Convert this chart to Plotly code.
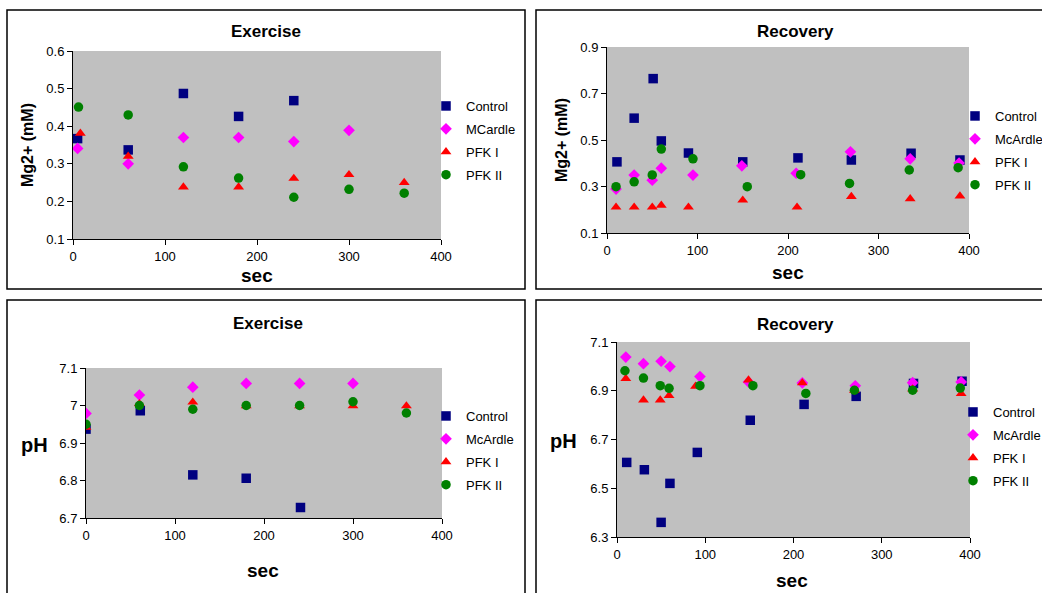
import plotly.graph_objects as go

W, H = 1042, 593

series_names = ["Control", "McArdle", "PFK I", "PFK II"]
series_names_ex_mg = ["Control", "MCardle", "PFK I", "PFK II"]
colors = ["#000080", "#FF00FF", "#FF0000", "#008000"]
symbols = ["square", "diamond", "triangle-up", "circle"]

# Panel 1: Exercise, Mg2+
ex_mg_ctrl_x = [5, 60, 120, 180, 240]
ex_mg_ctrl_y = [0.367, 0.337, 0.487, 0.426, 0.468]
ex_mg_mca_x = [5, 60, 120, 180, 240, 300]
ex_mg_mca_y = [0.341, 0.30, 0.37, 0.37, 0.359, 0.389]
ex_mg_pfk1_x = [8, 60, 120, 180, 240, 300, 360]
ex_mg_pfk1_y = [0.381, 0.32, 0.238, 0.238, 0.261, 0.271, 0.25]
ex_mg_pfk2_x = [6, 60, 120, 180, 240, 300, 360]
ex_mg_pfk2_y = [0.451, 0.43, 0.292, 0.262, 0.211, 0.232, 0.222]

# Panel 2: Recovery, Mg2+
rc_mg_ctrl_x = [11, 30, 51, 60, 90, 150, 211, 270, 336, 390]
rc_mg_ctrl_y = [0.406, 0.594, 0.764, 0.496, 0.444, 0.406, 0.423, 0.414, 0.443, 0.414]
rc_mg_mca_x = [10, 30, 50, 60, 95, 149, 209, 269, 335, 389]
rc_mg_mca_y = [0.289, 0.349, 0.327, 0.379, 0.349, 0.389, 0.357, 0.449, 0.419, 0.401]
rc_mg_pfk1_x = [10, 30, 50, 60, 90, 150, 210, 270, 335, 390]
rc_mg_pfk1_y = [0.211, 0.211, 0.211, 0.219, 0.211, 0.241, 0.211, 0.257, 0.247, 0.259]
rc_mg_pfk2_x = [10, 30, 50, 60, 95, 155, 214, 268, 334, 388]
rc_mg_pfk2_y = [0.299, 0.320, 0.35, 0.461, 0.419, 0.299, 0.351, 0.313, 0.371, 0.381]

# Panel 3: Exercise, pH
ex_ph_ctrl_x = [0, 61, 120, 180, 241]
ex_ph_ctrl_y = [6.937, 6.986, 6.815, 6.806, 6.728]
ex_ph_mca_x = [0, 60, 120, 180, 240, 300]
ex_ph_mca_y = [6.979, 7.028, 7.049, 7.059, 7.059, 7.059]
ex_ph_pfk1_x = [0, 60, 120, 180, 240, 300, 360]
ex_ph_pfk1_y = [6.942, 7.005, 7.009, 6.999, 6.999, 6.999, 6.999]
ex_ph_pfk2_x = [0, 60, 120, 180, 240, 300, 360]
ex_ph_pfk2_y = [6.95, 7.0, 6.99, 7.0, 7.0, 7.01, 6.98]

# Panel 4: Recovery, pH
rc_ph_ctrl_x = [11, 31, 50, 60, 91, 151, 212, 271, 336, 391]
rc_ph_ctrl_y = [6.606, 6.576, 6.360, 6.520, 6.647, 6.779, 6.844, 6.877, 6.930, 6.939]
rc_ph_mca_x = [10, 30, 50, 60, 94, 149, 210, 270, 335, 390]
rc_ph_mca_y = [7.038, 7.011, 7.021, 6.999, 6.958, 6.936, 6.932, 6.92, 6.933, 6.936]
rc_ph_pfk1_x = [10, 30, 49, 59, 89, 149, 210, 269, 335, 390]
rc_ph_pfk1_y = [6.95, 6.862, 6.862, 6.88, 6.918, 6.944, 6.932, 6.902, 6.907, 6.888]
rc_ph_pfk2_x = [9, 30, 49, 59, 94, 154, 214, 269, 335, 389]
rc_ph_pfk2_y = [6.982, 6.952, 6.921, 6.91, 6.921, 6.921, 6.889, 6.902, 6.902, 6.911]

panels = [
    dict(names=series_names_ex_mg,
         data=[(ex_mg_ctrl_x, ex_mg_ctrl_y), (ex_mg_mca_x, ex_mg_mca_y),
               (ex_mg_pfk1_x, ex_mg_pfk1_y), (ex_mg_pfk2_x, ex_mg_pfk2_y)]),
    dict(names=series_names,
         data=[(rc_mg_ctrl_x, rc_mg_ctrl_y), (rc_mg_mca_x, rc_mg_mca_y),
               (rc_mg_pfk1_x, rc_mg_pfk1_y), (rc_mg_pfk2_x, rc_mg_pfk2_y)]),
    dict(names=series_names,
         data=[(ex_ph_ctrl_x, ex_ph_ctrl_y), (ex_ph_mca_x, ex_ph_mca_y),
               (ex_ph_pfk1_x, ex_ph_pfk1_y), (ex_ph_pfk2_x, ex_ph_pfk2_y)]),
    dict(names=series_names,
         data=[(rc_ph_ctrl_x, rc_ph_ctrl_y), (rc_ph_mca_x, rc_ph_mca_y),
               (rc_ph_pfk1_x, rc_ph_pfk1_y), (rc_ph_pfk2_x, rc_ph_pfk2_y)]),
]

# layout geometry in pixels
plot_px = [  # x0, x1, ytop, ybottom
    (73, 441, 51, 239),
    (607, 969, 47, 233),
    (86, 442, 368, 518),
    (617, 970, 342, 537),
]
yranges = [[0.1, 0.6], [0.1, 0.9], [6.7, 7.1], [6.3, 7.1]]
ydticks = [0.1, 0.2, 0.1, 0.2]
legend_px = [(426, 91), (955, 101), (426, 401), (953, 397)]
frames_px = [(7, 525, 10, 289), (536, 1045, 10, 289), (7, 525, 300, 597), (536, 1045, 300, 597)]

def px(x):
    return x / W

def py(y):
    return 1 - y / H

FONT = "Liberation Sans, Arial, sans-serif"
marker_sizes = [9.5, 9, 9.5, 9.5]

fig = go.Figure()
layout = dict(
    width=W, height=H, autosize=False,
    margin=dict(l=0, r=0, t=0, b=0, pad=0, autoexpand=False),
    paper_bgcolor="white",
    plot_bgcolor="#C0C0C0",
    font=dict(family=FONT, size=13, color="black"),
    shapes=[], annotations=[],
)

for i, p in enumerate(panels):
    k = i + 1
    xa = "x" if k == 1 else f"x{k}"
    ya = "y" if k == 1 else f"y{k}"
    lg = "legend" if k == 1 else f"legend{k}"
    for j, (xs, ys) in enumerate(p["data"]):
        fig.add_trace(go.Scatter(
            x=xs, y=ys, mode="markers", name=p["names"][j],
            xaxis=xa, yaxis=ya, legend=lg,
            legendgroup=f"g{k}_{j}",
            marker=dict(symbol=symbols[j], color=colors[j], size=marker_sizes[j],
                        line=dict(width=0)),
        ))
    x0, x1, yt, yb = plot_px[i]
    axkey_x = "xaxis" if k == 1 else f"xaxis{k}"
    axkey_y = "yaxis" if k == 1 else f"yaxis{k}"
    layout[axkey_x] = dict(
        domain=[px(x0), px(x1)], anchor=ya, range=[0, 400], dtick=100,
        showgrid=False, zeroline=False, showline=True, linecolor="black", linewidth=1,
        ticks="outside", ticklen=5, tickcolor="black", tickfont=dict(size=13),
        fixedrange=True, automargin=False,
    )
    layout[axkey_y] = dict(
        domain=[py(yb), py(yt)], anchor=xa, range=yranges[i], dtick=ydticks[i],
        tick0=yranges[i][0],
        showgrid=False, zeroline=False, showline=True, linecolor="black", linewidth=1,
        ticks="outside", ticklen=5, tickcolor="black", tickfont=dict(size=13),
        fixedrange=True, automargin=False,
    )
    lx, ly = legend_px[i]
    layout[lg] = dict(
        x=px(lx), y=py(ly), xanchor="left", yanchor="top",
        bgcolor="rgba(0,0,0,0)", font=dict(size=13), tracegroupgap=3,
        itemwidth=30,
    )
    fx0, fx1, fyt, fyb = frames_px[i]
    layout["shapes"].append(dict(
        type="rect", xref="paper", yref="paper",
        x0=px(fx0), x1=px(fx1), y0=py(fyb), y1=py(fyt),
        line=dict(color="black", width=1.5), fillcolor="rgba(0,0,0,0)",
    ))

def ann(text, x, y, size, angle=0):
    layout["annotations"].append(dict(
        text=text, x=px(x), y=py(y), xref="paper", yref="paper",
        xanchor="center", yanchor="middle", showarrow=False, textangle=angle,
        font=dict(size=size, family=FONT, color="black"),
    ))

ann("<b>Exercise</b>", 266, 32, 17)
ann("<b>Recovery</b>", 795, 32, 17)
ann("<b>Exercise</b>", 268, 323, 17)
ann("<b>Recovery</b>", 795, 324, 17)
ann("<b>Mg2+ (mM)</b>", 27, 145, 16, -90)
ann("<b>Mg2+ (mM)</b>", 562, 140, 16, -90)
ann("<b>sec</b>", 257, 275, 19)
ann("<b>sec</b>", 788, 273, 19)
ann("<b>pH</b>", 34, 445, 20)
ann("<b>pH</b>", 563, 441, 20)
ann("<b>sec</b>", 263, 570, 19)
ann("<b>sec</b>", 792, 580, 19)

fig.update_layout(**layout)
fig.write_html(
    "out.html",
    config={"responsive": False, "displayModeBar": False},
    post_script="document.body.style.margin='0px';document.documentElement.style.overflow='hidden';document.body.style.overflow='hidden';",
)
